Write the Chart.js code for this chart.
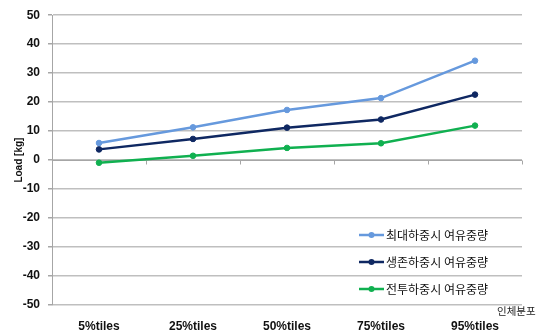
<!DOCTYPE html>
<html>
<head>
<meta charset="utf-8">
<script src="https://cdn.jsdelivr.net/npm/chart.js@4"></script>
<style>
  body { margin: 0; background: #fff; }
  #wrap { position: relative; width: 542px; height: 335px; }
  #legend { position: absolute; left: 359px; top: 221px; font: 12px "Noto Sans CJK KR", sans-serif; color: #111; }
  .item { display: flex; align-items: center; height: 27px; }
  .item svg { margin-right: 2px; }
  #xtitle { position: absolute; left: 497px; top: 303px; font: 10.5px "Noto Sans CJK KR", sans-serif; color: #222; }
</style>
</head>
<body>
<div id="wrap">
  <canvas id="chart" width="542" height="335"></canvas>
  <div id="legend"></div>
  <div id="xtitle">인체분포</div>
</div>
<script>
const categories = ["5%tiles", "25%tiles", "50%tiles", "75%tiles", "95%tiles"]
const seriesNames = ["최대하중시 여유중량", "생존하중시 여유중량", "전투하중시 여유중량"]
const maxLoad = [5.9, 11.3, 17.3, 21.4, 34.3]
const survivalLoad = [3.7, 7.3, 11.2, 14.0, 22.6]
const combatLoad = [-0.9, 1.5, 4.2, 5.8, 11.9]
const colors = ["#6699dd", "#0f2862", "#10b050"]

const font = "'Liberation Sans', Arial, 'Noto Sans CJK KR', sans-serif"

function makeSet(label, data, color) {
  return {
    label: label,
    data: data,
    borderColor: color,
    backgroundColor: color,
    borderWidth: 2.5,
    pointRadius: 2.8,
    pointBorderWidth: 1,
    pointHoverRadius: 2.8,
    tension: 0,
  }
}

// horizontal axis line through zero, with small ticks between categories
const zeroAxis = {
  id: "zeroAxis",
  beforeDatasetsDraw(chart) {
    const { ctx, chartArea, scales } = chart
    const y0 = Math.round(scales.y.getPixelForValue(0)) + 0.5
    ctx.save()
    ctx.strokeStyle = "#a6a6a6"
    ctx.lineWidth = 1
    ctx.beginPath()
    ctx.moveTo(chartArea.left, y0)
    ctx.lineTo(chartArea.right, y0)
    for (let i = 0; i <= categories.length; i++) {
      const x = Math.round(scales.x.getPixelForValue(i - 0.5)) + 0.5
      ctx.moveTo(x, y0)
      ctx.lineTo(x, y0 + 4)
    }
    ctx.stroke()
    ctx.restore()
  },
}

const chart = new Chart(document.getElementById("chart"), {
  type: "line",
  data: {
    labels: categories,
    datasets: [
      makeSet(seriesNames[0], maxLoad, colors[0]),
      makeSet(seriesNames[1], survivalLoad, colors[1]),
      makeSet(seriesNames[2], combatLoad, colors[2]),
    ],
  },
  plugins: [zeroAxis],
  options: {
    responsive: false,
    animation: false,
    layout: { padding: { top: 3, right: 20, left: 13, bottom: 4 } },
    plugins: {
      legend: { display: false },
      tooltip: { enabled: false },
    },
    scales: {
      x: {
        offset: true,
        afterFit: (s) => { s.height = 26 },
        grid: { display: false, drawTicks: false },
        border: { display: false },
        ticks: { color: "#111", font: { family: font, size: 12, weight: "bold" }, padding: 14, maxRotation: 0 },
      },
      y: {
        min: -50,
        max: 50,
        afterFit: (s) => { s.width = 39 },
        ticks: {
          stepSize: 5,
          color: "#111",
          font: { family: font, size: 12, weight: "bold" },
          padding: 8,
          callback: (v) => (v % 10 === 0 ? v : ""),
        },
        grid: {
          color: (ctx) => (ctx.tick && ctx.tick.value % 10 === 0 ? "#bfbfbf" : "#ededed"),
          lineWidth: (ctx) => (ctx.tick && ctx.tick.value % 10 === 0 ? 1.5 : 1),
          tickColor: (ctx) => (ctx.tick && ctx.tick.value % 10 === 0 ? "#a6a6a6" : "rgba(0,0,0,0)"),
          tickLength: 4,
        },
        border: { color: "#a6a6a6" },
        title: {
          display: true,
          text: "Load [kg]",
          color: "#111",
          font: { family: font, size: 10, weight: "bold" },
          padding: 0,
        },
      },
    },
  },
})

// legend as html
const legend = document.getElementById("legend")
seriesNames.forEach((name, i) => {
  const row = document.createElement("div")
  row.className = "item"
  row.innerHTML =
    '<svg width="25" height="8"><line x1="0" y1="4" x2="25" y2="4" stroke="' + colors[i] +
    '" stroke-width="2.5"/><circle cx="12.5" cy="4" r="3" fill="' + colors[i] + '"/></svg>' +
    "<span>" + name + "</span>"
  legend.appendChild(row)
})
</script>
</body>
</html>
